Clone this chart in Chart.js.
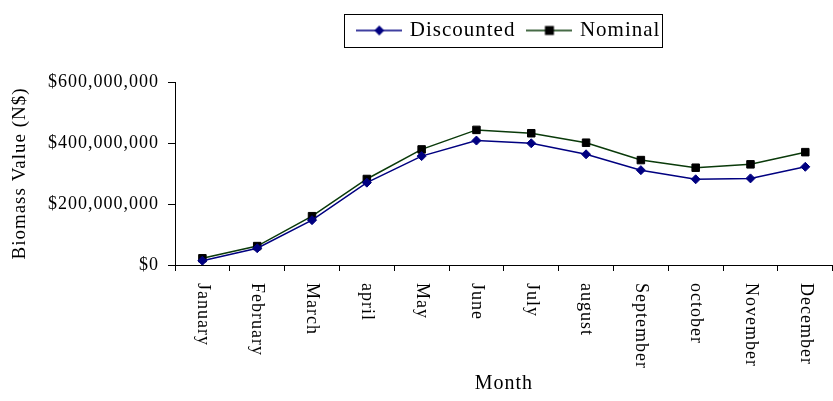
<!DOCTYPE html>
<html>
<head>
<meta charset="utf-8">
<script src="https://cdn.jsdelivr.net/npm/chart.js@4"></script>
<style>
  html, body { margin: 0; padding: 0; background: #fff; overflow: hidden; }
  #wrap { width: 839px; height: 401px; }
</style>
</head>
<body>
<div id="wrap"><canvas id="c" width="839" height="401"></canvas></div>
<script>
// Monthly biomass value, N$
const months = ['January', 'February', 'March', 'april', 'May', 'June',
                'July', 'august', 'September', 'october', 'November', 'December'];
const discounted = [14e6, 55e6, 147e6, 270e6, 357e6, 408e6, 399e6, 363e6, 311e6, 281e6, 284e6, 322e6];
const nominal    = [22e6, 62e6, 160e6, 282e6, 379e6, 443e6, 432e6, 401e6, 344e6, 319e6, 330e6, 370e6];
const yTicks = [0, 200e6, 400e6, 600e6];

const SERIF = "'Liberation Serif', 'Times New Roman', serif";
const NAVY = '#000080';
const GREEN = '#0a3a0a';

// Small line-with-marker swatches for the legend
function swatch(color, markerColor, shape) {
  const c = document.createElement('canvas');
  c.width = 46; c.height = 14;
  const g = c.getContext('2d');
  g.strokeStyle = color; g.lineWidth = 1.5;
  g.beginPath(); g.moveTo(0, 7); g.lineTo(46, 7); g.stroke();
  g.fillStyle = markerColor;
  g.beginPath();
  if (shape === 'diamond') {
    g.moveTo(23, 2); g.lineTo(28, 7); g.lineTo(23, 12); g.lineTo(18, 7); g.closePath();
  } else {
    g.rect(18.5, 2.5, 9, 9);
  }
  g.fill();
  return c;
}
const legendIcons = [swatch(NAVY, NAVY, 'diamond'), swatch(GREEN, '#000', 'square')];

const LEGEND_PAD = 14;

// Letter spacing for all canvas text, plus legend placement and frame
const textAndLegend = {
  id: 'textAndLegend',
  beforeUpdate(chart) { chart.ctx.letterSpacing = '1px'; },
  beforeDraw(chart) {
    chart.ctx.letterSpacing = '1px';
    const lg = chart.legend, ca = chart.chartArea;
    const w = lg.right - lg.left, h = lg.bottom - lg.top;
    const cx = (ca.left + ca.right) / 2 + 6;
    lg.left = cx - w / 2; lg.right = cx + w / 2;
    lg.top = 6; lg.bottom = 6 + h;
  },
  afterDraw(chart) {
    const lg = chart.legend;
    const lw = lg.lineWidths[0];
    const x0 = (lg.left + LEGEND_PAD + lg.right - lw) / 2;
    const left = x0 - 3 - 12;
    const right = x0 + lw - LEGEND_PAD - 1 + 3;
    const cy = lg.top + LEGEND_PAD + 21 / 2;
    const ctx = chart.ctx;
    ctx.save();
    ctx.strokeStyle = '#000';
    ctx.lineWidth = 1;
    ctx.strokeRect(Math.round(left) + 0.5, Math.round(cy - 16.5) + 0.5,
                   Math.round(right - left), 33);
    ctx.restore();
  }
};

new Chart(document.getElementById('c'), {
  type: 'line',
  data: {
    labels: months,
    datasets: [
      {
        label: 'Discounted',
        data: discounted,
        borderColor: NAVY,
        backgroundColor: NAVY,
        borderWidth: 1.5,
        pointStyle: 'rectRot',
        pointRadius: 4.5,
        pointBorderWidth: 1,
        pointBackgroundColor: NAVY,
        pointBorderColor: NAVY,
        tension: 0
      },
      {
        label: 'Nominal',
        data: nominal,
        borderColor: GREEN,
        backgroundColor: '#000',
        borderWidth: 1.5,
        pointStyle: 'rect',
        pointRadius: 5.3,
        pointBorderWidth: 1,
        pointBackgroundColor: '#000',
        pointBorderColor: '#000',
        tension: 0
      }
    ]
  },
  options: {
    responsive: false,
    animation: false,
    devicePixelRatio: 1,
    layout: { padding: { top: 37, left: 0, right: 0, bottom: 0 } },
    plugins: {
      tooltip: { enabled: false },
      legend: {
        display: true,
        position: 'top',
        labels: {
          color: '#000',
          font: { family: SERIF, size: 21 },
          usePointStyle: true,
          pointStyleWidth: 40,
          boxHeight: 14,
          padding: LEGEND_PAD,
          generateLabels(chart) {
            const items = Chart.defaults.plugins.legend.labels.generateLabels(chart);
            items.forEach((it, i) => { it.pointStyle = legendIcons[i]; it.fontColor = '#000'; });
            return items;
          }
        }
      }
    },
    scales: {
      x: {
        type: 'category',
        offset: true,
        grid: { offset: true, drawOnChartArea: false, tickLength: 6, color: '#000', lineWidth: 1 },
        border: { color: '#000', width: 1 },
        ticks: {
          color: '#000',
          font: { family: SERIF, size: 18 },
          padding: 12,
          autoSkip: false,
          minRotation: -90,
          maxRotation: -90
        },
        title: {
          display: true,
          text: 'Month',
          color: '#000',
          font: { family: SERIF, size: 20 },
          padding: { top: 0, bottom: 5 }
        },
        afterFit(scale) {
          scale.height = 136;
          // labels run top-to-bottom starting just under the tick marks
          scale._getXAxisLabelAlignment = () => 'left';
        }
      },
      y: {
        min: 0,
        max: 600e6,
        grid: { drawOnChartArea: false, tickLength: 7, color: '#000', lineWidth: 1 },
        border: { color: '#000', width: 1 },
        ticks: {
          color: '#000',
          font: { family: SERIF, size: 18 },
          padding: 9,
          callback: (v) => '$' + Number(v).toLocaleString('en-US')
        },
        afterBuildTicks(scale) {
          scale.ticks = yTicks.map(v => ({ value: v }));
        },
        title: {
          display: true,
          text: 'Biomass Value (N$)',
          color: '#000',
          font: { family: SERIF, size: 19 },
          padding: { top: 9, bottom: 0 }
        },
        afterFit(scale) {
          scale.width = 175;
        }
      }
    }
  },
  plugins: [textAndLegend]
});
</script>
</body>
</html>
